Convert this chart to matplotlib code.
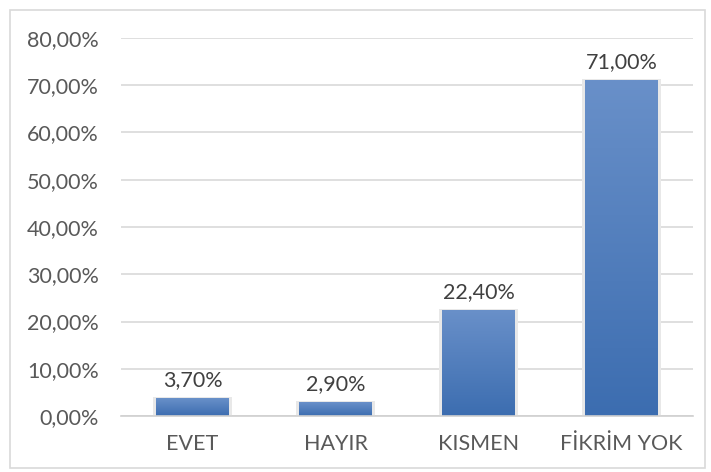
import matplotlib
matplotlib.use("Agg")
import matplotlib.pyplot as plt
import numpy as np
from matplotlib.patches import Rectangle
from matplotlib.colors import LinearSegmentedColormap

categories = ["EVET", "HAYIR", "KISMEN", "FİKRİM YOK"]
values = [3.70, 2.90, 22.40, 71.00]
yticks = [0, 10, 20, 30, 40, 50, 60, 70, 80]

plt.rcParams['font.family'] = ['Lato', 'DejaVu Sans']

fig = plt.figure(figsize=(7.11, 4.72), dpi=100)
fig.patches.append(Rectangle((10/711, 1-468/472), 695/711, 458/472, transform=fig.transFigure,
                             fill=False, edgecolor="#d9d9d9", linewidth=1.2))
ax = fig.add_axes([121/711, 1-416/472, 572/711, 378/472])

x = np.arange(len(categories))
bars = ax.bar(x, values, width=0.51, color="#4f7fc0", zorder=2)

cmap = LinearSegmentedColormap.from_list("g", ["#3c6db0", "#6990c9"])
grad = np.linspace(0, 1, 256).reshape(-1, 1)
for b in bars:
    x0, y0, w, h = b.get_x(), b.get_y(), b.get_width(), b.get_height()
    ax.add_patch(Rectangle((x0 - 0.02, y0), w + 0.04, h + 0.25, facecolor="#e8e8e8",
                           edgecolor="none", zorder=1.5))
    ax.imshow(grad, extent=(x0, x0 + w, y0, y0 + h), origin="lower", cmap=cmap,
              aspect="auto", zorder=2.5)
    b.set_visible(False)

for xi, v in zip(x, values):
    ax.annotate(f"{v:.2f}%".replace(".", ","), (xi, v), xytext=(0, 6),
                textcoords="offset points", ha="center", va="bottom",
                fontsize=15.5, color="#404040", zorder=4)

ax.set_xlim(-0.5, len(categories) - 0.5)
ax.set_ylim(0, 80)
ax.set_yticks(yticks)
ax.set_yticklabels([f"{t:.2f}%".replace(".", ",") for t in yticks])
ax.set_xticks(x)
ax.set_xticklabels(categories)
ax.tick_params(axis="both", length=0, labelsize=15.5, labelcolor="#595959")
ax.tick_params(axis="y", pad=16)
ax.tick_params(axis="x", pad=13)
ax.grid(axis="y", color="#d9d9d9", linewidth=1.2, zorder=0)
ax.set_axisbelow(True)
for s in ["top", "right", "left"]:
    ax.spines[s].set_visible(False)
ax.spines["bottom"].set_color("#d0d0d0")
ax.spines["bottom"].set_linewidth(1.2)
ax.spines["bottom"].set_zorder(3)

fig.savefig("out.png", dpi=100)
